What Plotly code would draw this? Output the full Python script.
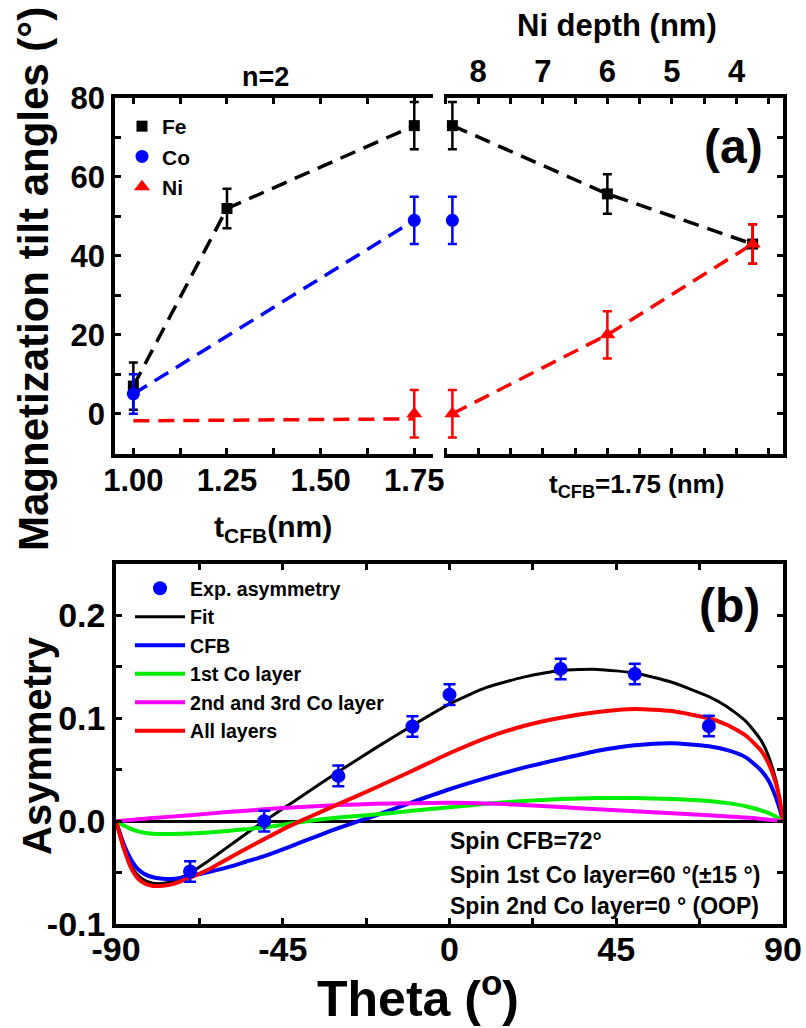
import plotly.graph_objects as go

W, H = 806, 1028
def X(px): return px / W
def Y(py): return 1 - py / H

# ---------------- data: panel (a) ----------------
# left part: vs t_CFB (nm)
fe_t = [1.00, 1.25, 1.75]
fe_left = [7, 52, 73]
fe_left_err = [6, 5, 6]
co_t = [1.00, 1.75]
co_left = [5, 49]
co_left_err = [5, 6]
ni_t = [1.75]
ni_left = [0]
ni_left_err = [6]
ni_line_t = [1.00, 1.75]
ni_line_y = [-1.8, -1.3]
# right part: vs Ni depth (nm), t_CFB = 1.75 nm
fe_depth = [8.4, 6.0, 3.75]
fe_right = [73, 55.7, 43]
fe_right_err = [6, 5, 5]
co_depth = [8.4]
co_right = [49]
co_right_err = [6]
ni_depth = [8.4, 6.0, 3.75]
ni_right = [0, 20, 43]
ni_right_err = [6, 6, 5]

t_ticks = [1.0, 1.125, 1.25, 1.375, 1.5, 1.625, 1.75]
t_labels = ["1.00", "", "1.25", "", "1.50", "", "1.75"]
depth_ticks = [8.5, 8, 7.5, 7, 6.5, 6, 5.5, 5, 4.5, 4, 3.5]
depth_labels = ["", "8", "", "7", "", "6", "", "5", "", "4", ""]
angle_ticks = [0, 10, 20, 30, 40, 50, 60, 70, 80]
angle_labels = ["0", "", "20", "", "40", "", "60", "", "80"]

# ---------------- data: panel (b) ----------------
exp_theta = [-70, -50, -30, -10, 0, 30, 50, 70]
exp_asym = [-0.049, 0.000, 0.044, 0.092, 0.123, 0.148, 0.143, 0.0925]
exp_err = [0.01, 0.01, 0.01, 0.01, 0.01, 0.01, 0.01, 0.01]

curve_theta = [-90, -88, -86, -84, -82, -80, -78, -75, -70, -65, -60, -55, -50, -45,
               -40, -35, -30, -20, -10, 0, 10, 20, 30, 40, 50, 60, 70, 75, 80, 84,
               86, 88, 89, 90]
fit = [0, -0.026, -0.043, -0.053, -0.058, -0.0603, -0.0607, -0.0585, -0.0505, -0.0385,
       -0.0255, -0.0125, 0.000, 0.012, 0.024, 0.036, 0.048, 0.071, 0.093, 0.114,
       0.130, 0.140, 0.1465, 0.1475, 0.144, 0.135, 0.121, 0.111, 0.097, 0.079,
       0.064, 0.041, 0.024, 0]
cfb = [0, -0.0216, -0.037, -0.047, -0.052, -0.0545, -0.0557, -0.0562, -0.0535, -0.0495,
       -0.045, -0.0395, -0.034, -0.0275, -0.0205, -0.0135, -0.0068, 0.0055, 0.0185, 0.031,
       0.042, 0.052, 0.0605, 0.0685, 0.0738, 0.0758, 0.0728, 0.069, 0.062, 0.0495,
       0.040, 0.024, 0.013, 0]
co1 = [0, -0.004, -0.0075, -0.010, -0.0115, -0.0123, -0.0125, -0.0124, -0.0119, -0.011,
       -0.0095, -0.0078, -0.006, -0.0035, -0.0008, 0.0015, 0.0035, 0.0065, 0.010, 0.0135,
       0.017, 0.0195, 0.0215, 0.0225, 0.0225, 0.0215, 0.0195, 0.0175, 0.0145, 0.0105,
       0.008, 0.0045, 0.0025, 0]
alllayers = [0, -0.025, -0.045, -0.056, -0.061, -0.063, -0.063, -0.0615, -0.055, -0.047,
             -0.037, -0.027, -0.0175, -0.008, 0.0005, 0.0085, 0.0165, 0.0325, 0.049, 0.066,
             0.081, 0.0925, 0.1005, 0.106, 0.109, 0.107, 0.100, 0.0935, 0.083, 0.069,
             0.057, 0.038, 0.023, 0]
co23_theta = [-90, -80, -70, -60, -50, -40, -30, -20, -10, 0, 10, 20, 30, 40, 50, 60,
              70, 80, 90]
co23 = [0, 0.003, 0.0058, 0.0088, 0.0115, 0.0138, 0.0157, 0.0168, 0.0175, 0.0178,
        0.0172, 0.0158, 0.0138, 0.0115, 0.0095, 0.0077, 0.0058, 0.0035, 0]

theta_ticks = [-90, -67.5, -45, -22.5, 0, 22.5, 45, 67.5, 90]
theta_labels = ["-90", "", "-45", "", "0", "", "45", "", "90"]
asym_ticks = [-0.1, -0.05, 0.0, 0.05, 0.1, 0.15, 0.2, 0.25]
asym_labels = ["-0.1", "", "0.0", "", "0.1", "", "0.2", ""]

SANS = "Liberation Sans, Arial, Helvetica, sans-serif"
BLUE, RED, BLACK, GREEN, MAG = "#0000ff", "#ff0000", "#000000", "#00ee00", "#ff00ff"

fig = go.Figure()

def dashed(x, y, color, xa, ya):
    fig.add_trace(go.Scatter(x=x, y=y, mode="lines", xaxis=xa, yaxis=ya,
                             line=dict(color=color, width=3.5, dash="16px,9px"),
                             showlegend=False, hoverinfo="skip"))

dashed(fe_t, fe_left, BLACK, "x", "y")
dashed(co_t, co_left, BLUE, "x", "y")
dashed(ni_line_t, ni_line_y, RED, "x", "y")
dashed(fe_depth, fe_right, BLACK, "x2", "y2")
dashed(ni_depth, ni_right, RED, "x2", "y2")

def pts(x, y, err, color, symbol, size, name, xa, ya, show):
    fig.add_trace(go.Scatter(x=x, y=y, mode="markers", xaxis=xa, yaxis=ya, name=name,
                             marker=dict(color=color, symbol=symbol, size=size),
                             error_y=dict(type="data", array=err, color=color,
                                          thickness=2.5, width=4.5),
                             showlegend=show, legend="legend"))

pts(fe_t, fe_left, fe_left_err, BLACK, "square", 11, "Fe", "x", "y", True)
pts(fe_depth, fe_right, fe_right_err, BLACK, "square", 11, "Fe", "x2", "y2", False)
pts(co_t, co_left, co_left_err, BLUE, "circle", 13, "Co", "x", "y", True)
pts(co_depth, co_right, co_right_err, BLUE, "circle", 13, "Co", "x2", "y2", False)
pts(ni_t, ni_left, ni_left_err, RED, "triangle-up", 14, "Ni", "x", "y", True)
pts(ni_depth, ni_right, ni_right_err, RED, "triangle-up", 14, "Ni", "x2", "y2", False)

def curve(x, y, color, width, name, rank):
    fig.add_trace(go.Scatter(x=x, y=y, mode="lines", xaxis="x3", yaxis="y3", name=name,
                             line=dict(color=color, width=width, shape="spline",
                                       smoothing=0.55),
                             legend="legend2", legendrank=rank))

curve(curve_theta, fit, BLACK, 3, "Fit", 2)
curve(curve_theta, cfb, BLUE, 4, "CFB", 3)
curve(curve_theta, co1, GREEN, 4, "1st Co layer", 4)
curve(co23_theta, co23, MAG, 4, "2nd and 3rd Co layer", 5)
curve(curve_theta, alllayers, RED, 4, "All layers", 6)
fig.add_trace(go.Scatter(x=exp_theta, y=exp_asym, mode="markers", xaxis="x3", yaxis="y3",
                         name="Exp. asymmetry",
                         marker=dict(color=BLUE, size=14),
                         error_y=dict(type="data", array=exp_err, color=BLUE,
                                      thickness=2.5, width=6),
                         legend="legend2", legendrank=1))

top_tickfont = dict(family=SANS, size=31, color="black", weight="bold")
bot_tickfont = dict(family=SANS, size=34, color="black", weight="bold")
ax_common = dict(showline=True, linecolor="black", linewidth=3.5, ticks="inside",
                 ticklen=6, tickwidth=2.5, tickcolor="black", showgrid=False,
                 zeroline=False, fixedrange=True)

fig.update_layout(
    width=W, height=H, margin=dict(l=0, r=0, t=0, b=0, autoexpand=False),
    paper_bgcolor="white", plot_bgcolor="white",
    xaxis=dict(domain=[X(115), X(433)], range=[0.951, 1.80], anchor="y",
               tickmode="array", tickvals=t_ticks, ticktext=t_labels,
               mirror="allticks", tickfont=top_tickfont, ticklabelstandoff=-4,
               **ax_common),
    yaxis=dict(domain=[Y(454), Y(98)], range=[-10.2, 80], anchor="x",
               tickmode="array", tickvals=angle_ticks, ticktext=angle_labels,
               tickfont=top_tickfont, **ax_common),
    xaxis2=dict(domain=[X(444), X(783)], range=[8.53, 3.28], anchor="y2", side="top",
                tickmode="array", tickvals=depth_ticks, ticktext=depth_labels,
                mirror="allticks", tickfont=top_tickfont, **ax_common),
    yaxis2=dict(domain=[Y(454), Y(98)], range=[-10.2, 80], anchor="x2", side="right",
                tickmode="array", tickvals=angle_ticks, showticklabels=False,
                tickfont=top_tickfont, **ax_common),
    xaxis3=dict(domain=[X(116), X(783)], range=[-90, 90], anchor="y3",
                tickmode="array", tickvals=theta_ticks, ticktext=theta_labels,
                mirror="allticks", tickfont=bot_tickfont, ticklabelstandoff=-8,
                **ax_common),
    yaxis3=dict(domain=[Y(924), Y(564)], range=[-0.1, 0.25], anchor="x3",
                tickmode="array", tickvals=asym_ticks, ticktext=asym_labels,
                mirror="allticks", tickfont=bot_tickfont,
                **{**ax_common, "zeroline": True},
                zerolinecolor="black", zerolinewidth=2.5),
    legend=dict(x=X(122), y=Y(106), xanchor="left", yanchor="top",
                bgcolor="rgba(0,0,0,0)", borderwidth=0,
                font=dict(family=SANS, size=21, color="black", weight="bold")),
    legend2=dict(x=X(130), y=Y(569), xanchor="left", yanchor="top",
                 bgcolor="rgba(0,0,0,0)", borderwidth=0, itemwidth=50,
                 font=dict(family=SANS, size=19.6, color="black", weight="bold")),
    showlegend=True,
)

def note(text, px, py, size, angle=0, xanchor="center"):
    fig.add_annotation(text=text, x=X(px), y=Y(py), xref="paper", yref="paper",
                       showarrow=False, textangle=angle, xanchor=xanchor,
                       yanchor="middle",
                       font=dict(family=SANS, size=size, color="black",
                                 weight="bold"))

note("Magnetization tilt angles (°)", 34, 279, 42, angle=-90)
note("n=2", 265, 77, 27)
note("Ni depth (nm)", 617, 25, 31)
note("(a)", 733, 147, 48)
note("t<sub>CFB</sub>(nm)", 273, 528, 30)
note("t<sub>CFB</sub>=1.75 (nm)", 636, 485, 26)
note("(b)", 729, 605, 48)
note("Asymmetry", 37, 746, 40, angle=-90)
note("Theta (<sup>o</sup>)", 418, 995, 50)
note("Spin CFB=72°", 448, 841, 23, xanchor="left")
note("Spin 1st Co layer=60 °(±15 °)", 448, 875, 23, xanchor="left")
note("Spin 2nd Co layer=0 ° (OOP)", 448, 906, 23, xanchor="left")

fig.write_html("out.html")
